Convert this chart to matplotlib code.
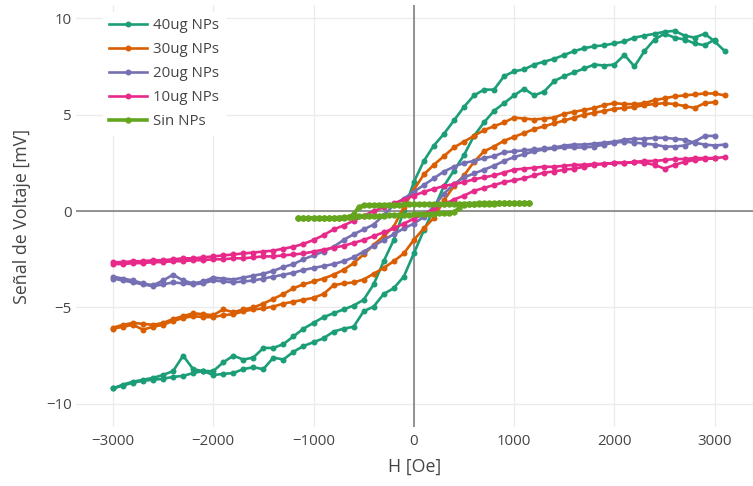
import matplotlib
matplotlib.use("Agg")
import matplotlib.pyplot as plt

# Applied field grids (Oe): descending branch runs -3000..3100, ascending -3000..3000
field_desc = list(range(-3000, 3101, 100))
field_asc = list(range(-3000, 3001, 100))
field_blank = list(range(-1150, 1151, 50))

series_names = ["40ug NPs", "30ug NPs", "20ug NPs", "10ug NPs", "Sin NPs"]
series_colors = ["#1b9e77", "#d95f02", "#7570b3", "#e7298a", "#66a61e"]

# Voltage signal (mV), listed in order of increasing field
np40_desc = [-9.2, -9.0, -8.85, -8.75, -8.65, -8.5, -8.3, -7.5, -8.2, -8.3,
             -8.3, -7.85, -7.5, -7.7, -7.6, -7.1, -7.1, -6.9, -6.5, -6.1,
             -5.8, -5.5, -5.3, -5.1, -4.9, -4.6, -3.8, -2.6, -1.5, 0.0,
             1.5, 2.6, 3.4, 4.0, 4.7, 5.4, 6.0, 6.3, 6.3, 7.0,
             7.25, 7.35, 7.6, 7.75, 7.9, 8.1, 8.3, 8.45, 8.55, 8.6,
             8.7, 8.8, 9.0, 9.1, 9.2, 9.3, 9.35, 9.1, 9.0, 9.2,
             8.8, 8.3]
np40_asc = [-9.2, -9.05, -8.9, -8.8, -8.75, -8.7, -8.6, -8.55, -8.4, -8.3,
            -8.5, -8.45, -8.4, -8.2, -8.1, -8.2, -7.6, -7.7, -7.3, -7.0,
            -6.8, -6.6, -6.25, -6.1, -6.0, -5.2, -4.95, -4.3, -4.0, -3.4,
            -2.2, -1.0, 0.1, 1.3, 2.1, 2.9, 3.9, 4.6, 5.2, 5.6,
            6.0, 6.35, 6.0, 6.2, 6.75, 7.0, 7.2, 7.4, 7.6, 7.55,
            7.6, 8.1, 7.5, 8.3, 8.9, 9.2, 9.0, 8.9, 8.7, 8.6,
            8.9]

np30_desc = [-6.05, -5.9, -5.8, -5.85, -5.9, -5.8, -5.6, -5.45, -5.3, -5.35,
             -5.4, -5.1, -5.25, -5.1, -5.0, -4.8, -4.55, -4.3, -4.0, -3.8,
             -3.65, -3.5, -3.3, -3.05, -2.7, -2.25, -1.75, -1.3, -0.8, 0.2,
             1.1, 1.9, 2.4, 2.85, 3.3, 3.6, 3.9, 4.2, 4.4, 4.6,
             4.85, 4.8, 4.75, 4.8, 4.85, 5.05, 5.15, 5.25, 5.35, 5.5,
             5.6, 5.55, 5.55, 5.6, 5.75, 5.85, 5.95, 6.0, 6.05, 6.1,
             6.1, 6.0]
np30_asc = [-6.1, -6.0, -5.9, -6.15, -6.0, -5.9, -5.7, -5.55, -5.45, -5.5,
            -5.5, -5.4, -5.35, -5.2, -5.1, -5.05, -4.95, -4.8, -4.7, -4.6,
            -4.5, -4.3, -3.85, -3.75, -3.7, -3.55, -3.25, -2.95, -2.6, -2.2,
            -1.5, -0.9, -0.35, 0.55, 1.3, 1.85, 2.55, 3.1, 3.35, 3.65,
            3.85, 4.05, 4.25, 4.4, 4.55, 4.7, 4.85, 5.0, 5.1, 5.2,
            5.3, 5.35, 5.4, 5.5, 5.55, 5.6, 5.55, 5.45, 5.35, 5.6,
            5.65]

np20_desc = [-3.4, -3.5, -3.6, -3.75, -3.85, -3.6, -3.3, -3.6, -3.75, -3.65,
             -3.45, -3.5, -3.55, -3.45, -3.35, -3.25, -3.1, -2.9, -2.75, -2.5,
             -2.3, -2.1, -1.85, -1.5, -1.2, -0.95, -0.7, -0.2, 0.3, 0.65,
             1.0, 1.35, 1.7, 2.05, 2.3, 2.5, 2.6, 2.75, 2.85, 3.05,
             3.1, 3.15, 3.2, 3.25, 3.3, 3.4, 3.45, 3.45, 3.5, 3.55,
             3.6, 3.7, 3.75, 3.75, 3.8, 3.8, 3.75, 3.7, 3.55, 3.45,
             3.4, 3.45]
np20_asc = [-3.5, -3.6, -3.7, -3.8, -3.9, -3.8, -3.7, -3.75, -3.8, -3.75,
            -3.6, -3.65, -3.7, -3.65, -3.6, -3.5, -3.4, -3.3, -3.2, -3.05,
            -2.95, -2.85, -2.75, -2.6, -2.4, -2.1, -1.8, -1.5, -1.2, -0.9,
            -0.65, -0.3, 0.25, 0.9, 1.4, 1.75, 1.95, 2.15, 2.35, 2.6,
            2.8, 2.95, 3.1, 3.2, 3.25, 3.3, 3.3, 3.3, 3.35, 3.45,
            3.55, 3.6, 3.55, 3.5, 3.45, 3.35, 3.35, 3.4, 3.6, 3.9,
            3.9]

np10_desc = [-2.65, -2.65, -2.6, -2.6, -2.55, -2.55, -2.5, -2.45, -2.45, -2.4,
             -2.35, -2.3, -2.25, -2.2, -2.15, -2.1, -2.05, -1.95, -1.85, -1.7,
             -1.5, -1.25, -0.95, -0.75, -0.5, -0.25, 0.0, 0.2, 0.4, 0.6,
             0.8, 1.0, 1.15, 1.3, 1.4, 1.5, 1.65, 1.75, 1.85, 2.0,
             2.15, 2.2, 2.25, 2.3, 2.3, 2.35, 2.4, 2.4, 2.45, 2.45,
             2.5, 2.5, 2.55, 2.6, 2.6, 2.65, 2.7, 2.7, 2.75, 2.75,
             2.75, 2.8]
np10_asc = [-2.75, -2.75, -2.7, -2.7, -2.65, -2.65, -2.6, -2.6, -2.55, -2.55,
            -2.5, -2.5, -2.45, -2.45, -2.4, -2.35, -2.35, -2.3, -2.25, -2.2,
            -2.1, -2.0, -1.9, -1.8, -1.65, -1.5, -1.3, -1.1, -0.9, -0.65,
            -0.4, -0.15, 0.1, 0.35, 0.6, 0.8, 1.05, 1.2, 1.35, 1.5,
            1.6, 1.7, 1.85, 2.0, 2.05, 2.15, 2.2, 2.3, 2.4, 2.45,
            2.5, 2.5, 2.55, 2.5, 2.4, 2.2, 2.4, 2.55, 2.65, 2.7,
            2.75]

blank_desc = [-0.38, -0.38, -0.37, -0.37, -0.36, -0.36, -0.35, -0.35, -0.34, -0.34,
              -0.32, -0.15, 0.2, 0.3, 0.32, 0.32, 0.33, 0.33, 0.34, 0.34,
              0.34, 0.35, 0.35, 0.35, 0.36, 0.36, 0.36, 0.37, 0.37, 0.37,
              0.38, 0.38, 0.38, 0.39, 0.39, 0.39, 0.4, 0.4, 0.4, 0.4,
              0.41, 0.41, 0.41, 0.41, 0.42, 0.42, 0.42]
blank_asc = [-0.38, -0.38, -0.37, -0.37, -0.36, -0.36, -0.35, -0.35, -0.34, -0.33,
             -0.32, -0.3, -0.28, -0.27, -0.26, -0.25, -0.24, -0.23, -0.22, -0.21,
             -0.2, -0.19, -0.18, -0.17, -0.16, -0.15, -0.14, -0.13, -0.12, -0.11,
             -0.1, -0.05, 0.15, 0.33, 0.36, 0.37, 0.38, 0.38, 0.39, 0.39,
             0.4, 0.4, 0.41, 0.41, 0.41, 0.42, 0.42]

x_ticks = [-3000, -2000, -1000, 0, 1000, 2000, 3000]
y_ticks = [-10, -5, 0, 5, 10]

loops = [
    (field_desc, np40_desc, field_asc, np40_asc),
    (field_desc, np30_desc, field_asc, np30_asc),
    (field_desc, np20_desc, field_asc, np20_asc),
    (field_desc, np10_desc, field_asc, np10_asc),
    (field_blank, blank_desc, field_blank, blank_asc),
]

FONT = ["Open Sans", "DejaVu Sans"]
TEXT = "#444444"

fig = plt.figure(figsize=(7.53, 4.86), dpi=100)
ax = fig.add_axes([76 / 753, 1 - 427 / 486, 677 / 753, 422 / 486])

for (hd, vd, ha, va), name, color in zip(loops, series_names, series_colors):
    # sweep down from positive saturation, then back up
    h = hd[::-1] + ha
    v = vd[::-1] + va
    if name == "Sin NPs":
        lw, ms = 2.6, 4.6
    else:
        lw, ms = 1.9, 4.3
    ax.plot(h, v, color=color, lw=lw, marker="o", ms=ms, mew=0,
            label=name, zorder=3, solid_joinstyle="round")

ax.axhline(0, color="#777777", lw=1.1, zorder=2)
ax.axvline(0, color="#777777", lw=1.1, zorder=2)

ax.set_xlim(-3368, 3382)
ax.set_ylim(-11.2, 10.69)
ax.set_xticks(x_ticks)
ax.set_yticks(y_ticks)
ax.grid(True, color="#ebebeb", lw=0.9, zorder=0)
ax.set_axisbelow(True)
for s in ax.spines.values():
    s.set_visible(False)
ax.tick_params(length=0, labelsize=10.8, labelcolor=TEXT, pad=5)
ax.tick_params(axis="y", pad=3)
for lbl in ax.get_xticklabels() + ax.get_yticklabels():
    lbl.set_family(FONT)

ax.set_xlabel("H [Oe]", fontsize=12.8, color=TEXT, family=FONT)
ax.xaxis.set_label_coords(0.5, (427 - 458) / 422)
ax.set_ylabel("Señal de Voltaje [mV]", fontsize=12.8, color=TEXT, family=FONT)
ax.yaxis.set_label_coords((31 - 76) / 677, 0.5)

leg = ax.legend(loc="upper left", bbox_to_anchor=(103 / 753, 1 - 12 / 486),
                bbox_transform=fig.transFigure, numpoints=1, frameon=True,
                fancybox=False, framealpha=1, edgecolor="white",
                facecolor="white", borderpad=0.4, borderaxespad=0,
                handlelength=2.5, handletextpad=0.45, labelspacing=0.6,
                prop={"family": FONT, "size": 10.8})
for t in leg.get_texts():
    t.set_color(TEXT)

fig.savefig("out.png", dpi=100)
